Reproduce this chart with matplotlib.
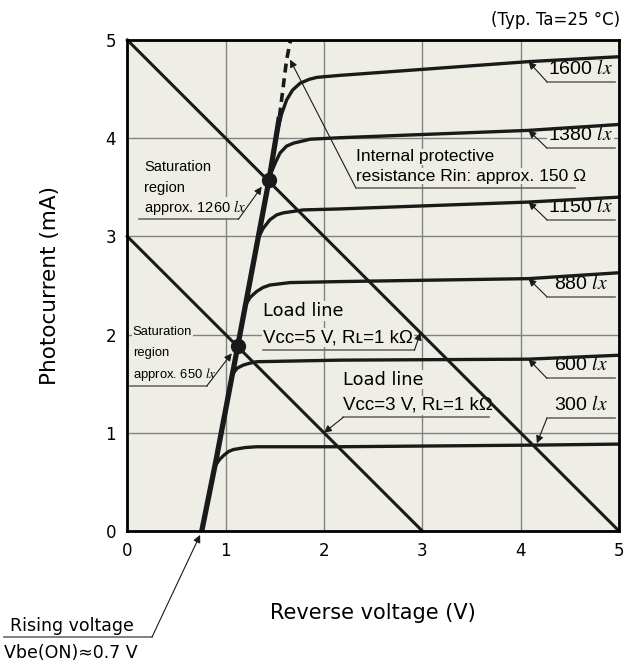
#photocurrent vs reverse voltage chart (phototransistor, Ta=25 C)
import matplotlib
matplotlib.use('Agg')
import matplotlib.pyplot as plt

plt.rcParams['font.family'] = ['DejaVu Sans']
plt.rcParams['mathtext.fontset'] = 'stix'

NARROW = ['Liberation Sans Narrow', 'Liberation Sans', 'DejaVu Sans']

# curves: reverse voltage (V) and photocurrent (mA)
lux_levels = [1600, 1380, 1150, 880, 600, 300]
v_1600 = [1.52, 1.57, 1.62, 1.68, 1.757, 1.85, 1.93, 2.16, 4.08, 5.0]
i_1600 = [4.05, 4.25, 4.39, 4.49, 4.56, 4.60, 4.62, 4.64, 4.78, 4.83]
v_1380 = [1.45, 1.51, 1.553, 1.62, 1.69, 1.86, 2.16, 4.08, 5.0]
i_1380 = [3.62, 3.76, 3.85, 3.92, 3.95, 3.99, 4.005, 4.08, 4.14]
v_1150 = [1.33, 1.38, 1.45, 1.52, 1.587, 1.79, 2.16, 4.08, 5.0]
i_1150 = [2.98, 3.08, 3.17, 3.22, 3.24, 3.27, 3.28, 3.35, 3.40]
v_880 = [1.20, 1.25, 1.316, 1.38, 1.45, 1.655, 2.16, 4.08, 5.0]
i_880 = [2.30, 2.38, 2.44, 2.48, 2.505, 2.53, 2.54, 2.57, 2.63]
v_600 = [1.07, 1.12, 1.18, 1.25, 1.316, 2.16, 4.08, 5.0]
i_600 = [1.60, 1.66, 1.69, 1.71, 1.724, 1.74, 1.75, 1.79]
v_300 = [0.89, 0.94, 0.98, 1.03, 1.08, 1.2, 1.316, 2.16, 4.165, 5.0]
i_300 = [0.66, 0.73, 0.77, 0.81, 0.83, 0.85, 0.858, 0.858, 0.875, 0.885]
curves_v = [v_1600, v_1380, v_1150, v_880, v_600, v_300]
curves_i = [i_1600, i_1380, i_1150, i_880, i_600, i_300]

# internal resistance line (solid part, then dashed extension)
rin_v = [0.757, 0.902, 1.123, 1.44, 1.547]
rin_i = [0.0, 0.72, 1.884, 3.57, 4.22]
rin_dash_v = [1.547, 1.62, 1.66]
rin_dash_i = [4.22, 4.80, 5.0]

# load lines: supply voltage (V), load resistance (kOhm)
vcc = [5, 3]
rl = 1.0

# saturation points
sat_v = [1.44, 1.123]
sat_i = [3.57, 1.884]

BG = '#efeee6'

fig = plt.figure(figsize=(6.26, 6.65), dpi=100)
ax = fig.add_axes([0.2034, 0.2015, 0.7854, 0.7383])
ax.set_facecolor(BG)
ax.set_xlim(0, 5)
ax.set_ylim(0, 5)
ax.set_xticks(range(6))
ax.set_yticks(range(6))
ax.tick_params(length=0, labelsize=12, pad=8)
ax.grid(True, color='#828282', lw=1.0, zorder=0)
ax.set_axisbelow(True)
for s in ax.spines.values():
    s.set_linewidth(2.0)
    s.set_zorder(6)
ax.set_xlabel('Reverse voltage (V)', fontsize=15, labelpad=31)
ax.set_ylabel('Photocurrent (mA)', fontsize=15.5, labelpad=33)
fig.text(0.99, 1 - 20 / 665, '(Typ. Ta=25 °C)', ha='right', va='center', fontsize=12)

# load lines
for v in vcc:
    ax.plot([0, v], [v / rl, 0], color='#1a1a1a', lw=2.2, zorder=3, clip_on=False)

# lux curves
for vs, cs in zip(curves_v, curves_i):
    ax.plot(vs, cs, color='#1a1a1a', lw=2.4, zorder=4, solid_joinstyle='round',
            solid_capstyle='butt', clip_on=False)

# internal resistance line
ax.plot(rin_v, rin_i, color='#1a1a1a', lw=3.8, zorder=5, solid_capstyle='butt')
ax.plot(rin_dash_v, rin_dash_i, color='#1a1a1a', lw=2.6, ls=(0, (2.5, 1.6)), zorder=5)
ax.plot(sat_v, sat_i, 'o', color='#1a1a1a', ms=10, zorder=6)

box = dict(facecolor=BG, edgecolor='none', pad=0.5)
arrow = dict(arrowstyle='-|>', color='#1a1a1a', lw=0.8, mutation_scale=11,
             shrinkA=0, shrinkB=0)


def leader(tip, x0, x1, y):
    # grey underline with a thin arrow out to the curve
    ax.plot([x0, x1], [y, y], color='#6b6b6b', lw=1.2, zorder=3, clip_on=False)
    ax.annotate('', xy=tip, xytext=(x0 if tip[0] < x0 else x1, y), arrowprops=arrow,
                zorder=3, annotation_clip=False)


def lines_of_text(x, ys, texts, **kw):
    for y, t in zip(ys, texts):
        ax.text(x, y, t, ha='left', va='center', bbox=box, zorder=2, **kw)


# lux labels
lux_tips = [(4.08, 4.78), (4.08, 4.08), (4.08, 3.35), (4.08, 2.57), (4.08, 1.75), (4.165, 0.893)]
lux_lines = [4.575, 3.90, 3.17, 2.386, 1.555, 1.148]
for lux, tip, y in zip(lux_levels, lux_tips, lux_lines):
    leader(tip, 4.267, 4.96, y)
    ax.text(4.61, y + 0.04, f'{lux} ' + r'$\mathit{lx}$', ha='center', va='bottom',
            fontsize=14, family=NARROW, bbox=box, zorder=2)

# saturation regions
leader((1.367, 3.506), 0.122, 1.129, 3.174)
lines_of_text(0.17, [3.702, 3.498, 3.294],
              ['Saturation', 'region', 'approx. 1260 ' + r'$\mathit{lx}$'],
              fontsize=10.5, family=NARROW)
leader((1.062, 1.81), 0.027, 0.808, 1.477)
lines_of_text(0.055, [2.023, 1.809, 1.589],
              ['Saturation', 'region', 'approx. 650 ' + r'$\mathit{lx}$'],
              fontsize=9.4, family=NARROW)

# internal resistance
leader((1.655, 4.80), 2.323, 4.554, 3.496)
lines_of_text(2.323, [3.81, 3.615],
              ['Internal protective', 'resistance Rin: approx. 150 Ω'],
              fontsize=12.5, family=NARROW)

# load line labels
leader((2.98, 2.02), 1.38, 2.92, 1.84)
lines_of_text(1.38, [2.24, 1.97], ['Load line'], fontsize=12.8)
lines_of_text(1.38, [1.97], ['Vcc=5 V, Rʟ=1 kΩ'], fontsize=13.5, family=NARROW)
leader((2.0, 1.0), 2.196, 3.673, 1.158)
lines_of_text(2.196, [1.54], ['Load line'], fontsize=12.8)
lines_of_text(2.196, [1.28], ['Vcc=3 V, Rʟ=1 kΩ'], fontsize=13.5, family=NARROW)

# rising voltage
ax.plot([-1.254, 0.251], [-1.08, -1.08], color='#6b6b6b', lw=1.2, clip_on=False)
ax.annotate('', xy=(0.74, -0.04), xytext=(0.251, -1.08), arrowprops=arrow,
            annotation_clip=False)
ax.text(-1.193, -0.97, 'Rising voltage', ha='left', va='center', fontsize=12.5)
ax.text(-1.254, -1.24, 'Vbe(ON)≈0.7 V', ha='left', va='center', fontsize=12.5)

fig.savefig('out.png', dpi=100, facecolor='white')
